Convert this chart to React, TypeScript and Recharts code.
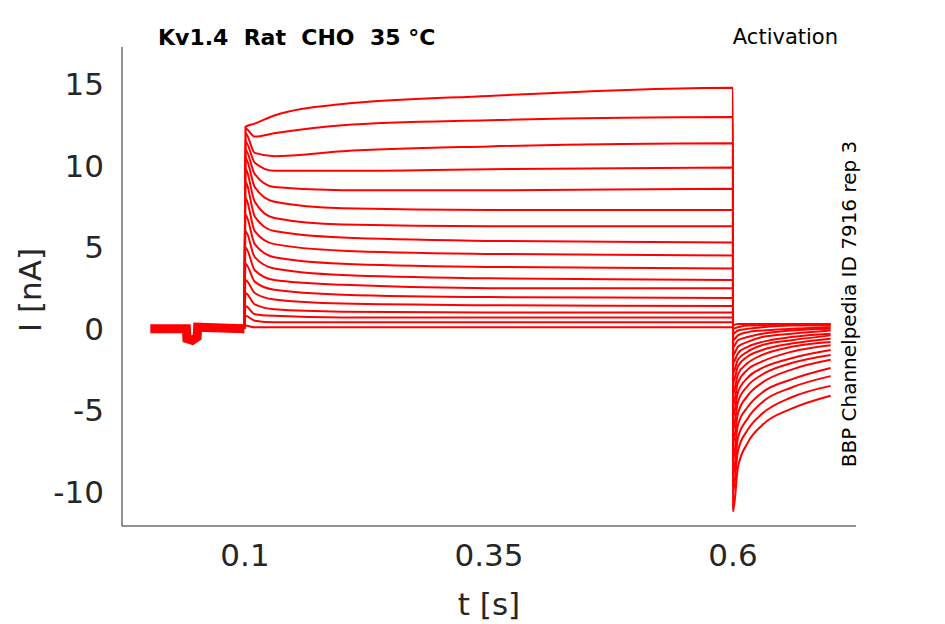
import React from 'react';
import { LineChart, Line, XAxis, YAxis } from 'recharts';

// step protocol times (s)
const stepTimes = [0.1005, 0.11, 0.13, 0.2, 0.35, 0.5999];
const tailTimes = [0.6001, 0.605, 0.615, 0.63, 0.66, 0.7];

// current during step (nA), one row per trace
const stepValues = [
    [12.4, 12.6, 13.1, 13.8, 14.3, 14.8],
    [12.3, 11.8, 12.0, 12.5, 12.8, 13.0],
    [12.0, 10.8, 10.6, 10.9, 11.2, 11.4],
    [11.5, 10.2, 9.7, 9.7, 9.8, 9.9],
    [11.0, 9.5, 8.7, 8.5, 8.5, 8.6],
    [10.5, 8.7, 7.8, 7.4, 7.3, 7.3],
    [9.8, 7.8, 6.8, 6.4, 6.3, 6.3],
    [9.0, 6.9, 6.0, 5.6, 5.4, 5.3],
    [8.0, 6.0, 5.2, 4.8, 4.6, 4.5],
    [7.0, 5.2, 4.4, 4.0, 3.8, 3.7],
    [6.0, 4.4, 3.7, 3.3, 3.1, 3.0],
    [5.0, 3.6, 3.0, 2.7, 2.5, 2.5],
    [4.0, 2.9, 2.4, 2.1, 1.95, 1.9],
    [3.0, 2.2, 1.8, 1.55, 1.45, 1.4],
    [2.2, 1.5, 1.2, 1.05, 1.0, 1.0],
    [1.4, 0.9, 0.8, 0.7, 0.7, 0.7],
    [0.8, 0.5, 0.4, 0.4, 0.4, 0.4],
    [0.2, 0.1, 0.1, 0.1, 0.1, 0.1],
];

// tail currents after step (nA)
const tailValues = [
    [-11.2, -8.5, -7.0, -5.9, -4.9, -4.1],
    [-10.0, -7.5, -6.2, -5.2, -4.2, -3.5],
    [-9.0, -6.7, -5.5, -4.5, -3.6, -2.9],
    [-8.0, -5.9, -4.8, -3.9, -3.1, -2.4],
    [-7.0, -5.2, -4.1, -3.3, -2.5, -1.9],
    [-6.2, -4.5, -3.5, -2.8, -2.1, -1.6],
    [-5.4, -3.9, -3.0, -2.4, -1.8, -1.3],
    [-4.7, -3.3, -2.5, -2.0, -1.4, -1.0],
    [-4.0, -2.8, -2.1, -1.6, -1.1, -0.8],
    [-3.3, -2.3, -1.7, -1.3, -0.9, -0.6],
    [-2.7, -1.9, -1.4, -1.0, -0.7, -0.4],
    [-2.1, -1.5, -1.1, -0.8, -0.5, -0.3],
    [-1.6, -1.1, -0.8, -0.5, -0.3, -0.1],
    [-1.1, -0.7, -0.5, -0.3, -0.1, 0.0],
    [-0.7, -0.4, -0.2, -0.1, 0.0, 0.1],
    [-0.3, -0.1, 0.0, 0.1, 0.2, 0.2],
    [0.0, 0.1, 0.2, 0.2, 0.3, 0.3],
    [0.2, 0.3, 0.3, 0.3, 0.3, 0.3],
];

// holding period before the step
const preTimes = [0.003, 0.04, 0.0405, 0.046, 0.051, 0.0515, 0.0995];
const preValues = [0.0, 0.0, -0.6, -0.7, -0.5, 0.1, 0.0];

const xTicks = [0.1, 0.35, 0.6];
const yTicks = [-10, -5, 0, 5, 10, 15];

const traces = stepValues.map((sv, i) => [
    { t: preTimes[preTimes.length - 1], v: preValues[preValues.length - 1] },
    ...stepTimes.map((t, j) => ({ t, v: sv[j] })),
    ...tailTimes.map((t, j) => ({ t, v: tailValues[i][j] })),
]);
const preData = preTimes.map((t, j) => ({ t, v: preValues[j] }));

const font = '"DejaVu Sans", sans-serif';
const tickStyle = { fontSize: 31, fill: '#262626', fontFamily: font };

export default function App() {
    return (
        <div style={{ position: 'absolute', left: 0, top: 0, width: 945, height: 624, background: '#fff' }}>
            <LineChart width={945} height={624} margin={{ top: 47, right: 89, bottom: 68, left: 2 }}>
                <XAxis
                    dataKey='t'
                    type='number'
                    domain={[-0.026, 0.726]}
                    ticks={xTicks}
                    tick={tickStyle}
                    tickLine={false}
                    tickMargin={12}
                    stroke='#262626'
                    allowDuplicatedCategory={false}
                />
                <YAxis
                    type='number'
                    domain={[-12.1, 17.3]}
                    ticks={yTicks}
                    tick={tickStyle}
                    tickLine={false}
                    tickMargin={12}
                    width={120}
                    stroke='#262626'
                />
                <Line data={preData} dataKey='v' stroke='#ff0000' strokeWidth={9} dot={false} isAnimationActive={false} type='linear' />
                {traces.map((d, i) => (
                    <Line key={i} data={d} dataKey='v' stroke='#ff0000' strokeWidth={2} dot={false} isAnimationActive={false} type='monotone' />
                ))}
            </LineChart>
            <div style={{ position: 'absolute', left: 158, top: 25, fontFamily: font, fontWeight: 'bold', fontSize: 22 }}>Kv1.4&nbsp; Rat&nbsp; CHO&nbsp; 35 °C</div>
            <div style={{ position: 'absolute', right: 107, top: 25, fontFamily: font, fontSize: 21 }}>Activation</div>
            <div style={{ position: 'absolute', left: 849, top: 304, fontFamily: font, fontSize: 20, transform: 'translate(-50%,-50%) rotate(-90deg)', whiteSpace: 'nowrap' }}>BBP Channelpedia ID 7916 rep 3</div>
            <div style={{ position: 'absolute', left: 30, top: 290, fontFamily: font, fontSize: 31, color: '#262626', transform: 'translate(-50%,-50%) rotate(-90deg)', whiteSpace: 'nowrap' }}>I [nA]</div>
            <div style={{ position: 'absolute', left: 489, top: 604, fontFamily: font, fontSize: 31, color: '#262626', transform: 'translate(-50%,-50%)', whiteSpace: 'nowrap' }}>t [s]</div>
        </div>
    );
}
